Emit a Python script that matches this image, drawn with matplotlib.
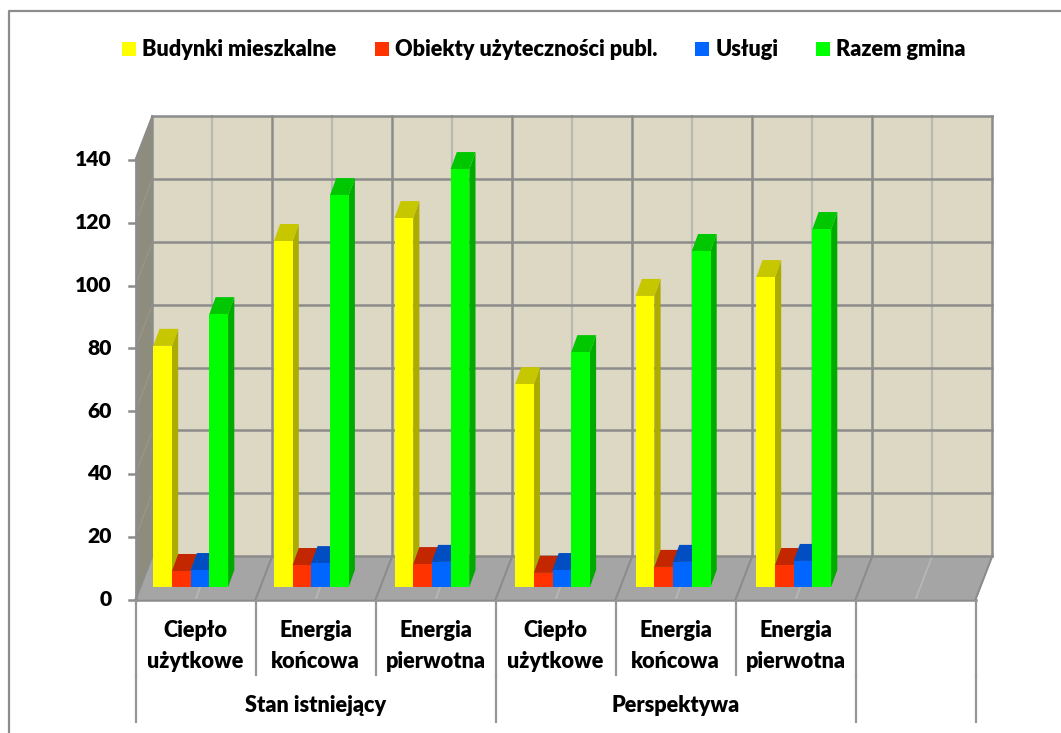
# Stan istniejacy / Perspektywa - pseudo 3D column chart
import matplotlib
matplotlib.use('Agg')
import matplotlib.pyplot as plt
from matplotlib.lines import Line2D
from matplotlib.patches import Polygon, Patch

plt.rcParams['font.family'] = ['Lato', 'DejaVu Sans']
plt.rcParams['font.weight'] = 800

# Data
categories = ['Ciepło\nużytkowe', 'Energia\nkońcowa', 'Energia\npierwotna',
              'Ciepło\nużytkowe', 'Energia\nkońcowa', 'Energia\npierwotna', '']
groups = ['Stan istniejący', 'Perspektywa', '']
group_sizes = [3, 3, 1]
series_names = ['Budynki mieszkalne', 'Obiekty użyteczności publ.', 'Usługi', 'Razem gmina']
budynki = [76.8, 110.2, 117.5, 64.6, 92.7, 98.7]
obiekty = [5.1, 7.0, 7.3, 4.5, 6.4, 7.0]
uslugi = [5.4, 7.6, 8.0, 5.4, 8.0, 8.3]
razem = [86.9, 124.8, 133.1, 74.8, 107.0, 114.0]
yticks = [0, 20, 40, 60, 80, 100, 120, 140]

series = [budynki, obiekty, uslugi, razem]
front_colors = ['#FFFF00', '#FF3300', '#0066FF', '#00FF00']
side_colors = ['#ABAB00', '#AB2200', '#0044AB', '#00AB00']
top_colors = ['#C7C700', '#C22700', '#004EC2', '#00C700']

W, H = 1061, 733
PX_X = 120.0    # pixels per category
PX_Y = 3.14     # pixels per unit
X0, Y0 = 135.5, 599.5
FS = 15.6

fig = plt.figure(figsize=(W / 100, H / 100), dpi=100)
ax = fig.add_axes([0, 0, 1, 1])
ax.set_xlim(-X0 / PX_X, (W - X0) / PX_X)
ax.set_ylim(-(H - Y0) / PX_Y, Y0 / PX_Y)
ax.axis('off')

n_cat = len(categories)
ymax = 140.0
dep_x = 16.8 / PX_X
dep_y = 43.5 / PX_Y
bar_x0 = 17.8 / PX_X
bar_step = 120.6 / PX_X
bar_w = 18.7 / PX_X
bar_base = 12.5 / PX_Y
side_x = 6.2 / PX_X
side_y = 17.0 / PX_Y
grid = '#8C8C8C'
grid_light = '#B8B8B6'
sep_color = '#969696'


def poly(pts, color, z=1, lw=0):
    ax.add_patch(Polygon(pts, closed=True, facecolor=color, edgecolor=color, linewidth=lw, zorder=z))


# walls and floor
poly([(dep_x, dep_y), (n_cat + dep_x, dep_y), (n_cat + dep_x, ymax + dep_y), (dep_x, ymax + dep_y)], '#DDD8C3')
poly([(0, 0), (dep_x, dep_y), (dep_x, ymax + dep_y), (0, ymax)], '#8E8D7D')
poly([(0, 0), (n_cat, 0), (n_cat + dep_x, dep_y), (dep_x, dep_y)], '#A5A5A5')

# minor gridlines at mid category, then major ones
for i in range(n_cat):
    xm = i + 0.5
    ax.plot([xm + dep_x, xm + dep_x], [dep_y, ymax + dep_y], color=grid_light, lw=1.6, zorder=2)
    ax.plot([xm, xm + dep_x], [0, dep_y], color=grid_light, lw=1.2, zorder=2)
for y in yticks:
    ax.plot([dep_x, n_cat + dep_x], [y + dep_y, y + dep_y], color=grid, lw=1.8, zorder=2)
    ax.plot([0, dep_x], [y, y + dep_y], color='#9A9989', lw=0.8, zorder=2)
    ax.plot([-7 / PX_X, 0], [y, y], color=grid, lw=1.8, zorder=2)
for i in range(n_cat + 1):
    ax.plot([i + dep_x, i + dep_x], [dep_y, ymax + dep_y], color=grid, lw=1.8, zorder=2)
    ax.plot([i, i + dep_x], [0, dep_y], color=grid, lw=1.5, zorder=2)
ax.plot([0, n_cat], [0, 0], color=grid, lw=1.8, zorder=2)
ax.plot([0, 0], [0, ymax], color=grid, lw=1.8, zorder=2)
ax.plot([0, dep_x], [ymax, ymax + dep_y], color=grid, lw=1.5, zorder=2)

# bars, left to right so that the next bar covers the side of the previous one
z = 3
for c in range(len(budynki)):
    for s, vals in enumerate(series):
        left = c * bar_step + bar_x0 + s * bar_w
        v = vals[c]
        right = left + bar_w
        top = bar_base + v
        poly([(right, bar_base), (right + side_x, bar_base + side_y),
              (right + side_x, top + side_y), (right, top)], side_colors[s], z)
        poly([(left, top), (right, top), (right + side_x, top + side_y),
              (left + side_x, top + side_y)], top_colors[s], z)
        ax.bar(left, v, width=bar_w, bottom=bar_base, align='edge',
               color=front_colors[s], linewidth=0, zorder=z + 0.5)
        z += 1

# value axis labels
for y in yticks:
    ax.text(-24 / PX_X, y, str(y), ha='right', va='center', fontsize=15.2, color='black')

# category labels and separators below the floor
sep1 = -75.5 / PX_Y
sep2 = -122.5 / PX_Y
for i, name in enumerate(categories):
    ax.text(i + 0.5, -46.5 / PX_Y, name, ha='center', va='center', fontsize=FS,
            linespacing=1.6, color='black')
for i in range(n_cat + 1):
    ax.plot([i, i], [-1 / PX_Y, sep1], color=sep_color, lw=1.6, zorder=2)
pos = 0
ax.plot([0, 0], [sep1, sep2], color=sep_color, lw=1.6, zorder=2)
for name, size in zip(groups, group_sizes):
    ax.text(pos + size / 2, -106 / PX_Y, name, ha='center', va='center', fontsize=FS, color='black')
    pos += size
    ax.plot([pos, pos], [sep1, sep2], color=sep_color, lw=1.6, zorder=2)

# legend
handles = [Patch(facecolor=c, edgecolor='none') for c in front_colors]
leg = ax.legend(handles, series_names, ncol=4, frameon=False, fontsize=FS,
                loc='center', bbox_to_anchor=(544 / W, 1 - 50 / H), bbox_transform=fig.transFigure,
                handlelength=0.65, handleheight=0.65, handletextpad=0.28, columnspacing=1.75)

# chart frame, only top and left are inside the picture
fig.add_artist(Line2D([9 / W, 9 / W, 1], [0, 1 - 11 / H, 1 - 11 / H], color=grid, lw=1.6,
                      transform=fig.transFigure))

fig.savefig('out.png', dpi=100)
